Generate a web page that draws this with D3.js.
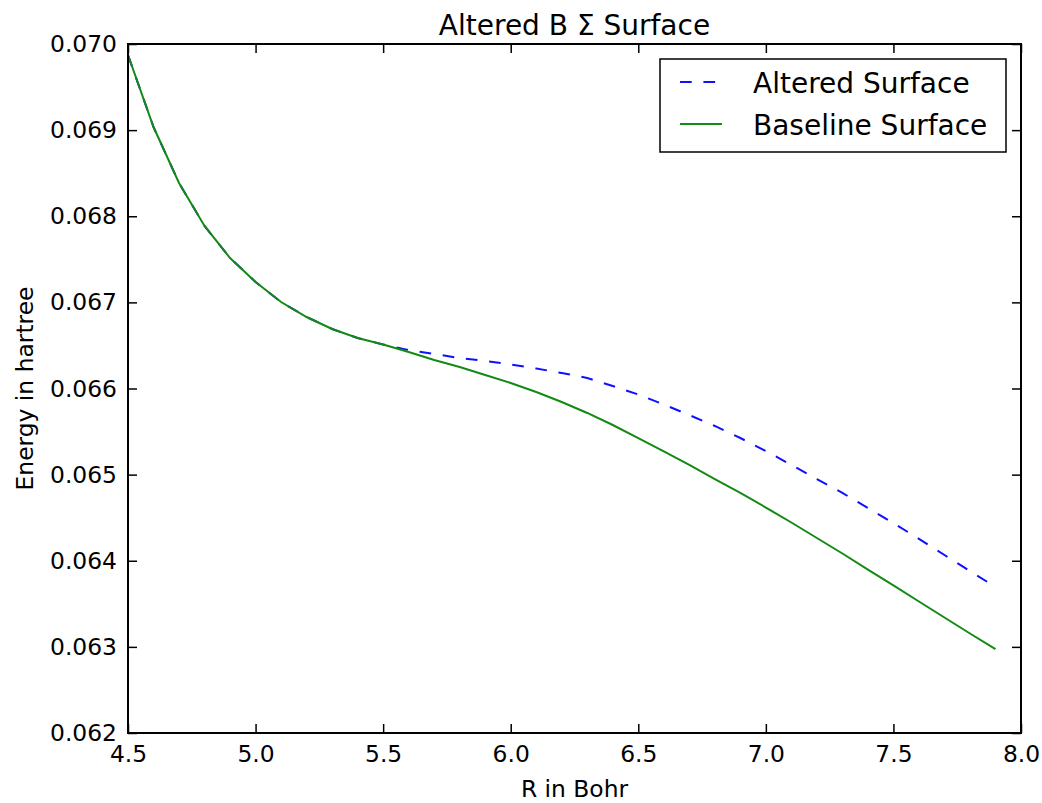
<!DOCTYPE html>
<html>
<head>
<meta charset="utf-8">
<script src="https://cdn.jsdelivr.net/npm/d3@7"></script>
<style>
  body { margin: 0; background: #fff; }
  svg { display: block; font-family: 'DejaVu Sans', sans-serif; }
</style>
</head>
<body>
<svg id="chart" width="1042" height="803"></svg>
<script>
const rBohr = [
  4.5, 4.6, 4.7, 4.8, 4.9, 5.0, 5.1, 5.2, 5.3, 5.4, 5.5, 5.6,
  5.7, 5.8, 5.9, 6.0, 6.1, 6.2, 6.3, 6.4, 6.5, 6.6, 6.7, 6.8,
  6.9, 7.0, 7.1, 7.2, 7.3, 7.4, 7.5, 7.6, 7.7, 7.8, 7.9
];

const baseline = [
  0.069872, 0.069036, 0.068386, 0.067887, 0.067515, 0.067237, 0.067004,
  0.066830, 0.066691, 0.066586, 0.066511, 0.066424, 0.066331, 0.066250,
  0.066157, 0.066064, 0.065959, 0.065843, 0.065716, 0.065576, 0.065425,
  0.065269, 0.065112, 0.064949, 0.064787, 0.064618, 0.064444, 0.064264,
  0.064084, 0.063898, 0.063713, 0.063527, 0.063341, 0.063155, 0.062975
];

const altered = [
  0.069872, 0.069036, 0.068386, 0.067887, 0.067515, 0.067237, 0.067004,
  0.066830, 0.066691, 0.066586, 0.066511, 0.066447, 0.066401, 0.066354,
  0.066319, 0.066279, 0.066232, 0.066180, 0.066122, 0.066029, 0.065930,
  0.065814, 0.065692, 0.065565, 0.065425, 0.065274, 0.065112, 0.064949,
  0.064787, 0.064612, 0.064438, 0.064253, 0.064067, 0.063881, 0.063695
];

const xTicks = [4.5, 5.0, 5.5, 6.0, 6.5, 7.0, 7.5, 8.0];
const yTicks = [0.062, 0.063, 0.064, 0.065, 0.066, 0.067, 0.068, 0.069, 0.070];

const series = [
  { name: 'Altered Surface', values: altered, color: '#1010ff', dash: '11.7,11.7' },
  { name: 'Baseline Surface', values: baseline, color: '#138a13', dash: null },
];

const margin = { left: 128, right: 21, top: 44, bottom: 70 };
const width = 1042 - margin.left - margin.right;
const height = 803 - margin.top - margin.bottom;

const svg = d3.select('#chart');
const g = svg.append('g')
  .attr('transform', 'translate(' + margin.left + ',' + margin.top + ')');

const x = d3.scaleLinear().domain([4.5, 8.0]).range([0, width]);
const y = d3.scaleLinear().domain([0.062, 0.070]).range([height, 0]);

// lines
const line = d3.line()
  .x((d, i) => x(rBohr[i]))
  .y(d => y(d));

g.selectAll('.series')
  .data(series)
  .enter()
  .append('path')
  .attr('class', 'series')
  .attr('d', d => line(d.values))
  .attr('fill', 'none')
  .attr('stroke', d => d.color)
  .attr('stroke-width', 2)
  .attr('stroke-dasharray', d => d.dash);

// axes, matplotlib classic: inward ticks on all sides
const tickLen = 9;
const styleAxis = sel => {
  sel.select('.domain').remove();
  sel.selectAll('.tick line').attr('stroke', '#000').attr('stroke-width', 1.5);
  sel.selectAll('.tick text')
    .attr('fill', '#000')
    .attr('font-size', 23.4)
    .attr('font-family', 'DejaVu Sans, sans-serif');
};

g.append('g')
  .attr('transform', 'translate(0,' + height + ')')
  .call(d3.axisBottom(x).tickValues(xTicks).tickFormat(d3.format('.1f'))
    .tickSizeInner(-tickLen).tickSizeOuter(0).tickPadding(12))
  .call(styleAxis);

g.append('g')
  .call(d3.axisTop(x).tickValues(xTicks).tickFormat('')
    .tickSizeInner(-tickLen).tickSizeOuter(0))
  .call(styleAxis);

g.append('g')
  .call(d3.axisLeft(y).tickValues(yTicks).tickFormat(d3.format('.3f'))
    .tickSizeInner(-tickLen).tickSizeOuter(0).tickPadding(11))
  .call(styleAxis);

g.append('g')
  .attr('transform', 'translate(' + width + ',0)')
  .call(d3.axisRight(y).tickValues(yTicks).tickFormat('')
    .tickSizeInner(-tickLen).tickSizeOuter(0))
  .call(styleAxis);

// frame
g.append('rect')
  .attr('width', width)
  .attr('height', height)
  .attr('fill', 'none')
  .attr('stroke', '#000')
  .attr('stroke-width', 2);

// title and labels
svg.append('text')
  .attr('x', margin.left + width / 2)
  .attr('y', 35)
  .attr('text-anchor', 'middle')
  .attr('font-size', 28)
  .text('Altered B \u03A3 Surface');

svg.append('text')
  .attr('x', margin.left + width / 2)
  .attr('y', 797)
  .attr('text-anchor', 'middle')
  .attr('font-size', 23.4)
  .text('R in Bohr');

svg.append('text')
  .attr('transform', 'translate(33,' + (margin.top + height / 2) + ') rotate(-90)')
  .attr('text-anchor', 'middle')
  .attr('font-size', 23.4)
  .text('Energy in hartree');

// legend
const legend = svg.append('g').attr('class', 'legend');
legend.append('rect')
  .attr('x', 660)
  .attr('y', 59)
  .attr('width', 346)
  .attr('height', 93)
  .attr('fill', '#fff')
  .attr('stroke', '#000')
  .attr('stroke-width', 1.5);

const items = legend.selectAll('g')
  .data(series)
  .enter()
  .append('g')
  .attr('transform', (d, i) => 'translate(680,' + (82 + i * 42) + ')');

items.append('line')
  .attr('x1', 0)
  .attr('x2', 42)
  .attr('stroke', d => d.color)
  .attr('stroke-width', 2)
  .attr('stroke-dasharray', d => d.dash);

items.append('text')
  .attr('x', 73)
  .attr('y', 11)
  .attr('font-size', 28)
  .text(d => d.name);
</script>
</body>
</html>
